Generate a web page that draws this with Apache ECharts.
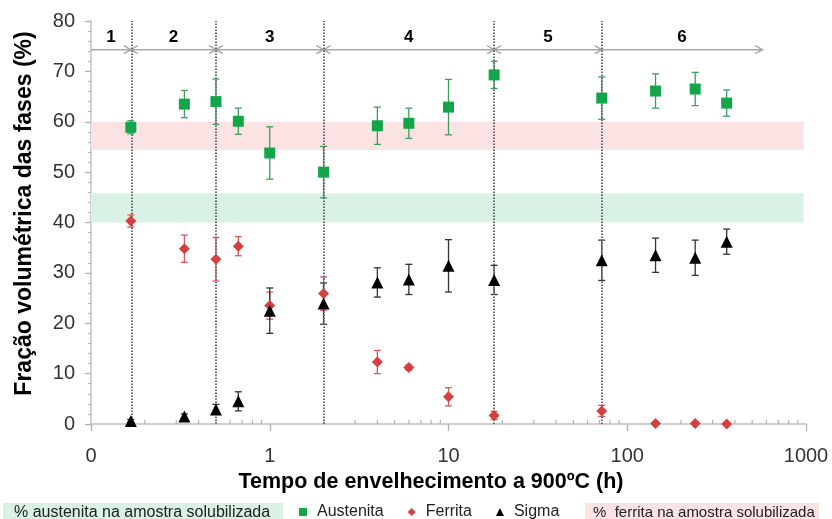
<!DOCTYPE html>
<html>
<head>
<meta charset="utf-8">
<script src="https://cdn.jsdelivr.net/npm/echarts@6/dist/echarts.min.js"></script>
<style>html,body{margin:0;padding:0;background:#fff}#c{width:832px;height:519px}</style>
</head>
<body>
<div id="c"></div>
<script>
// ---- data ----
const times = [0.167, 0.333, 0.5, 0.667, 1, 2, 4, 6, 10, 18, 72, 144, 240, 360];
const austenita = [58.9, 63.5, 64.0, 60.1, 53.8, 50.0, 59.2, 59.7, 62.9, 69.3, 64.7, 66.1, 66.5, 63.7];
const austenitaErr = [1.3, 2.7, 4.5, 2.6, 5.2, 5.1, 3.7, 3.0, 5.5, 2.7, 4.2, 3.4, 3.3, 2.6];
const ferrita = [40.3, 34.8, 32.7, 35.3, 23.5, 25.9, 12.3, 11.2, 5.4, 1.7, 2.6, 0.1, 0.1, 0.0];
const ferritaErr = [1.2, 2.7, 4.3, 1.9, 2.7, 3.3, 2.3, 0.5, 1.8, 0.8, 1.1, 0, 0, 0];
const sigma = [0.6, 1.5, 2.9, 4.5, 22.5, 23.9, 28.1, 28.7, 31.4, 28.6, 32.5, 33.5, 33.0, 36.2];
const sigmaErr = [0.3, 0.5, 1.0, 1.9, 4.5, 4.1, 2.9, 3.0, 5.2, 2.9, 4.0, 3.4, 3.5, 2.5];

const austenitaBand = [54.4, 60.0];   // pink band
const ferritaBand = [40.0, 45.8];     // green band
const bandRange = [0.1, 970];

const stageBounds = [0.167, 0.5, 2, 18, 72];
const stageStart = [0.1, 0.167, 0.5, 2, 18, 72];
const stageEnd = [0.167, 0.5, 2, 18, 72, 570];
const stageLabels = ['1', '2', '3', '4', '5', '6'];
const stageLeftHead = [false, true, true, true, true, false];
const stageY = 74.3;
const stageLabelY = 76.8;

const xMinorTicks = [0.2,0.3,0.4,0.5,0.6,0.7,0.8,0.9,2,3,4,5,6,7,8,9,20,30,40,50,60,70,80,90,200,300,400,500,600,700,800,900];

const FONT = "'Liberation Sans', Arial, sans-serif";
const GREEN = '#13a54a', RED = '#d63f3d', BLACK = '#000';

function errData(vals, errs) {
  return times.map((t, i) => [t, vals[i] - errs[i], vals[i] + errs[i]]);
}
function errSeries(name, vals, errs, color) {
  return {
    type: 'custom', name: name + ' err', silent: true, z: 3,
    data: errData(vals, errs),
    renderItem: function (params, api) {
      const x = api.value(0), lo = api.value(1), hi = api.value(2);
      if (hi - lo <= 0) return null;
      const p1 = api.coord([x, hi]), p2 = api.coord([x, lo]);
      const w = 3.5;
      const st = { stroke: color, lineWidth: 1.3 };
      return { type: 'group', children: [
        { type: 'line', shape: { x1: p1[0], y1: p1[1], x2: p2[0], y2: p2[1] }, style: st },
        { type: 'line', shape: { x1: p1[0]-w, y1: p1[1], x2: p1[0]+w, y2: p1[1] }, style: st },
        { type: 'line', shape: { x1: p2[0]-w, y1: p2[1], x2: p2[0]+w, y2: p2[1] }, style: st }
      ]};
    }
  };
}

const chart = echarts.init(document.getElementById('c'), null, { renderer: 'canvas' });
chart.setOption({
  animation: false,
  backgroundColor: '#fff',
  grid: { left: 91, right: 26, top: 21, bottom: 95, containLabel: false },
  xAxis: {
    type: 'log', logBase: 10, min: 0.1, max: 1000,
    name: 'Tempo de envelhecimento a 900ºC (h)',
    nameLocation: 'middle', nameGap: 38,
    nameTextStyle: { fontFamily: FONT, fontWeight: 'bold', fontSize: 21.5, color: '#000', padding: [0, 35, 0, 0] },
    axisLine: { show: true, lineStyle: { color: '#c0c0c0', width: 1.5 } },
    axisTick: { show: true, length: 7, lineStyle: { color: '#b0b0b0', width: 1.3 } },
    axisLabel: { fontFamily: FONT, fontSize: 20, color: '#333', margin: 22,
      formatter: v => (v < 1 ? '0' : String(Math.round(v))) },
    splitLine: { show: false }
  },
  yAxis: {
    type: 'value', min: 0, max: 80, interval: 10,
    name: 'Fração volumétrica das fases (%)',
    nameLocation: 'middle', nameGap: 55,
    nameTextStyle: { fontFamily: FONT, fontWeight: 'bold', fontSize: 23, color: '#000', padding: [0, 0, 0, 18] },
    axisLine: { show: true, lineStyle: { color: '#c0c0c0', width: 1.5 } },
    axisTick: { show: true, length: 6, lineStyle: { color: '#b0b0b0', width: 1.3 } },
    minorTick: { show: true, splitNumber: 5, length: 3, lineStyle: { color: '#b8b8b8' } },
    axisLabel: { fontFamily: FONT, fontSize: 20, color: '#333', margin: 16 },
    splitLine: { show: false }
  },
  legend: {
    data: ['Austenita', 'Ferrita', 'Sigma'],
    left: 299, top: 504, padding: 0, itemWidth: 8, itemHeight: 8, itemGap: 24,
    textStyle: { fontFamily: FONT, fontSize: 16, color: '#222', padding: [0, 0, 0, 5] }
  },
  graphic: [
    { type: 'rect', left: 3, top: 503, shape: { width: 280, height: 16 }, style: { fill: '#d9f2e4' }, silent: true },
    { type: 'text', left: 14, top: 504.5, style: { text: '% austenita na amostra solubilizada', font: '16px ' + FONT, fill: '#222' }, silent: true },
    { type: 'rect', left: 585, top: 503, shape: { width: 234, height: 16 }, style: { fill: '#fce3e3' }, silent: true },
    { type: 'text', left: 593, top: 505, style: { text: '%  ferrita na amostra solubilizada', font: '15px ' + FONT, fill: '#222' }, silent: true }
  ],
  series: [
    {
      type: 'line', name: 'bands', data: [], silent: true, z: 1,
      markArea: {
        silent: true,
        data: [
          [{ xAxis: bandRange[0], yAxis: austenitaBand[0], itemStyle: { color: '#fce3e3' } }, { xAxis: bandRange[1], yAxis: austenitaBand[1] }],
          [{ xAxis: bandRange[0], yAxis: ferritaBand[0], itemStyle: { color: '#d9f2e4' } }, { xAxis: bandRange[1], yAxis: ferritaBand[1] }]
        ]
      },
      markLine: {
        silent: true, symbol: ['none', 'none'], label: { show: false },
        lineStyle: { color: '#6a6a6a', type: [1.5, 1.5], width: 2 },
        data: stageBounds.map(v => ({ xAxis: v }))
      }
    },
    {
      type: 'custom', name: 'minorTicks', silent: true, z: 2,
      data: xMinorTicks.map(v => [v, 0]),
      renderItem: function (params, api) {
        const p = api.coord([api.value(0), 0]);
        return { type: 'line', shape: { x1: p[0], y1: p[1], x2: p[0], y2: p[1] - 4 }, style: { stroke: '#b0b0b0', lineWidth: 1.2 } };
      }
    },
    {
      type: 'custom', name: 'stages', silent: true, z: 2,
      data: stageStart.map((s, i) => [s, stageEnd[i], stageY]),
      renderItem: function (params, api) {
        const i = params.dataIndex;
        const a = api.coord([api.value(0), api.value(2)]);
        const b = api.coord([api.value(1), api.value(2)]);
        const st = { stroke: '#a8a8a8', lineWidth: 1.5, fill: null };
        const ch = [
          { type: 'line', shape: { x1: a[0], y1: a[1], x2: b[0], y2: b[1] }, style: st },
          { type: 'polyline', shape: { points: [[b[0]-7, b[1]-4], [b[0], b[1]], [b[0]-7, b[1]+4]] }, style: st }
        ];
        if (stageLeftHead[i]) {
          ch.push({ type: 'polyline', shape: { points: [[a[0]+7, a[1]-4], [a[0], a[1]], [a[0]+7, a[1]+4]] }, style: st });
        }
        const ly = api.coord([api.value(0), stageLabelY])[1];
        ch.push({ type: 'text', x: (a[0] + b[0]) / 2, y: ly,
          style: { text: stageLabels[i], font: 'bold 17px ' + FONT, fill: '#000', align: 'center', verticalAlign: 'middle' } });
        return { type: 'group', children: ch };
      }
    },
    errSeries('Austenita', austenita, austenitaErr, '#3d9e5c'),
    errSeries('Ferrita', ferrita, ferritaErr, '#d65a57'),
    errSeries('Sigma', sigma, sigmaErr, '#333'),
    { type: 'scatter', name: 'Austenita', symbol: 'rect', symbolSize: 11, z: 5,
      itemStyle: { color: GREEN, opacity: 1 }, data: times.map((t, i) => [t, austenita[i]]) },
    { type: 'scatter', name: 'Ferrita', symbol: 'diamond', symbolSize: 11, z: 5,
      itemStyle: { color: RED, opacity: 1 }, data: times.map((t, i) => [t, ferrita[i]]) },
    { type: 'scatter', name: 'Sigma', symbol: 'triangle', symbolSize: 12, z: 5,
      itemStyle: { color: BLACK, opacity: 1 }, data: times.map((t, i) => [t, sigma[i]]) }
  ]
});
</script>
</body>
</html>
